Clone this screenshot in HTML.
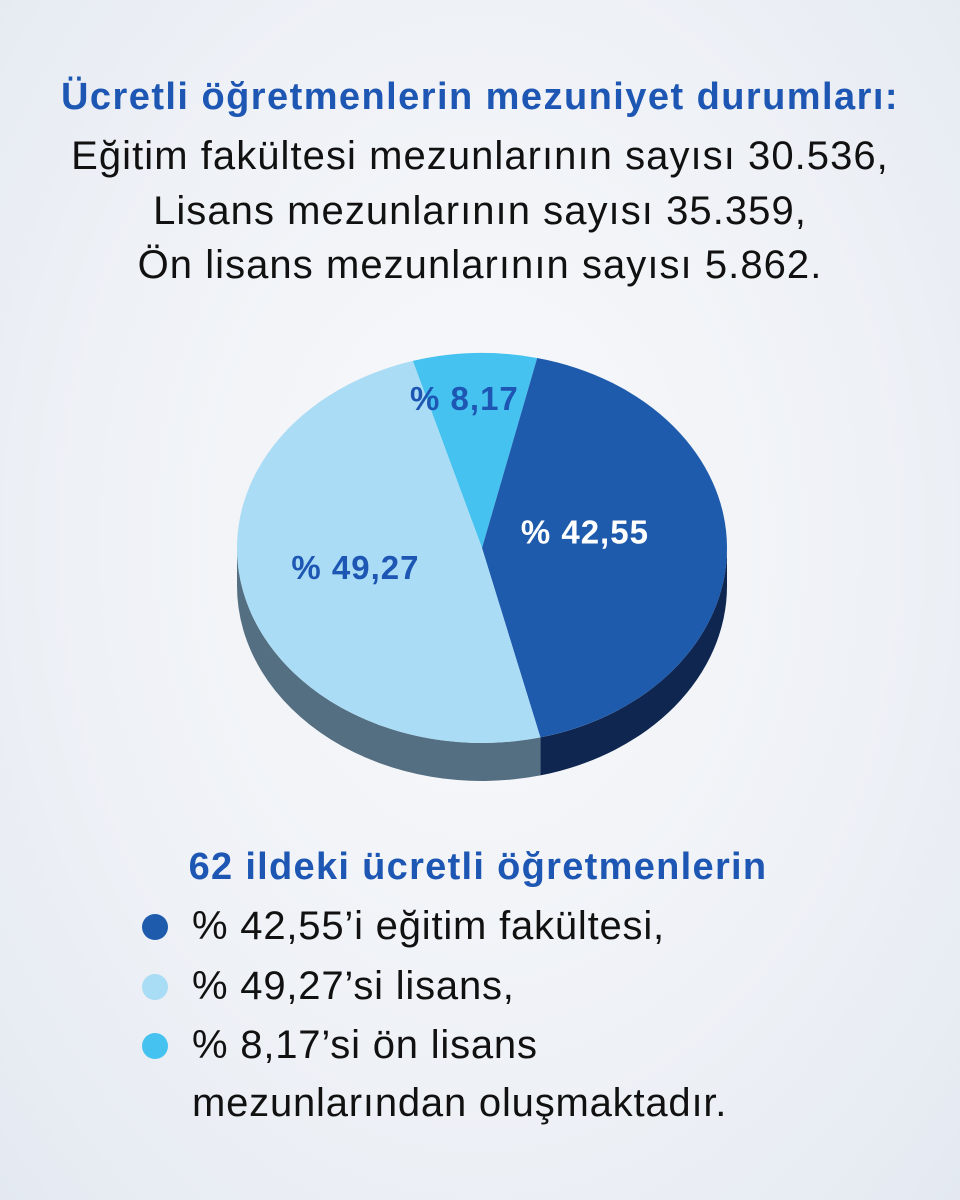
<!DOCTYPE html>
<html><head><meta charset="utf-8">
<style>
html,body{margin:0;padding:0}
body{width:960px;height:1200px;overflow:hidden;background:radial-gradient(ellipse at 50% 45%,#f8f9fb 0%,#eef1f6 60%,#e4e9f1 100%);font-family:"Liberation Sans",sans-serif;position:relative}
.t{position:absolute;left:0;width:960px;text-align:center;color:#111;font-size:40px;letter-spacing:1.05px;white-space:nowrap}
.title{font-weight:bold;color:#1d57b3;font-size:38px;letter-spacing:1.45px}
.lt{letter-spacing:1.3px}
.leg{position:absolute;left:0;font-size:40px;color:#111;letter-spacing:0.8px;white-space:nowrap}
.dot{position:absolute;width:26px;height:26px;border-radius:50%}
</style></head><body>
<div class="t title" style="top:76px">Ücretli öğretmenlerin mezuniyet durumları:</div>
<div class="t" style="top:134px">Eğitim fakültesi mezunlarının sayısı 30.536,</div>
<div class="t" style="top:189px">Lisans mezunlarının sayısı 35.359,</div>
<div class="t" style="top:243px">Ön lisans mezunlarının sayısı 5.862.</div>
<svg id="pie" width="960" height="1200" style="position:absolute;left:0;top:0"></svg>
<div class="t title lt" style="top:846px;left:-2px">62 ildeki ücretli öğretmenlerin</div>
<div class="dot" style="left:142px;top:914px;background:#1f5bad"></div>
<div class="leg" style="left:192px;top:904px">% 42,55’i eğitim fakültesi,</div>
<div class="dot" style="left:142px;top:974px;background:#a9dcf5"></div>
<div class="leg" style="left:192px;top:964px">% 49,27’si lisans,</div>
<div class="dot" style="left:142px;top:1033px;background:#45c2ef"></div>
<div class="leg" style="left:192px;top:1023px">% 8,17’si ön lisans</div>
<div class="leg" style="left:192px;top:1081px">mezunlarından oluşmaktadır.</div>
<script>
const categories=["Ön lisans","Eğitim fakültesi","Lisans"];
const values=[8.17,42.55,49.27];
const labels=["% 8,17","% 42,55","% 49,27"];
const topColors=["#45c2ef","#1f5bad","#aadcf5"];
const sideColors=["#1a6d94","#0e2650","#546e82"];
const labelColors=["#1d57b3","#ffffff","#1d57b3"];
const cx=482,cy=548,rx=245,ry=195,depth=38,startDeg=-16.4;
const NS="http://www.w3.org/2000/svg";
const svg=document.getElementById('pie');
function pt(a,dy){return [cx+rx*Math.sin(a),cy-ry*Math.cos(a)+(dy||0)];}
const total=values.reduce((a,b)=>a+b,0);
let a0=startDeg*Math.PI/180;
const arcs=values.map(v=>{const s=a0;a0+=v/total*2*Math.PI;return [s,a0];});
arcs.forEach((r,i)=>{
  let s=Math.max(r[0],Math.PI/2),e=Math.min(r[1],3*Math.PI/2);
  if(e<=s)return;
  const p1=pt(s),p2=pt(e),p3=pt(e,depth),p4=pt(s,depth);
  const p=document.createElementNS(NS,'path');
  p.setAttribute('d',`M${p1} A${rx},${ry} 0 0 1 ${p2} L${p3} A${rx},${ry} 0 0 0 ${p4} Z`);
  p.setAttribute('fill',sideColors[i]);
  
  
  svg.appendChild(p);
});
arcs.forEach((r,i)=>{
  const p1=pt(r[0]),p2=pt(r[1]);
  const large=(r[1]-r[0])>Math.PI?1:0;
  const p=document.createElementNS(NS,'path');
  p.setAttribute('d',`M${cx},${cy} L${p1} A${rx},${ry} 0 ${large} 1 ${p2} Z`);
  p.setAttribute('fill',topColors[i]);
  
  
  svg.appendChild(p);
});
const lr=[0.77,0.42,0.535];
const ldx=[-12,0,0];
const ldy=[0,-16,-8];
arcs.forEach((r,i)=>{
  const m=(r[0]+r[1])/2;
  const x=cx+rx*lr[i]*Math.sin(m)+ldx[i],y=cy-ry*lr[i]*Math.cos(m)+ldy[i];
  const t=document.createElementNS(NS,'text');
  t.setAttribute('x',x);t.setAttribute('y',y+12);
  t.setAttribute('text-anchor','middle');
  t.setAttribute('font-family','Liberation Sans, sans-serif');
  t.setAttribute('font-weight','bold');
  t.setAttribute('font-size','33');
  t.setAttribute('letter-spacing','1');
  t.setAttribute('fill',labelColors[i]);
  t.textContent=labels[i];
  
  
  svg.appendChild(t);
});
</script>
</body></html>
